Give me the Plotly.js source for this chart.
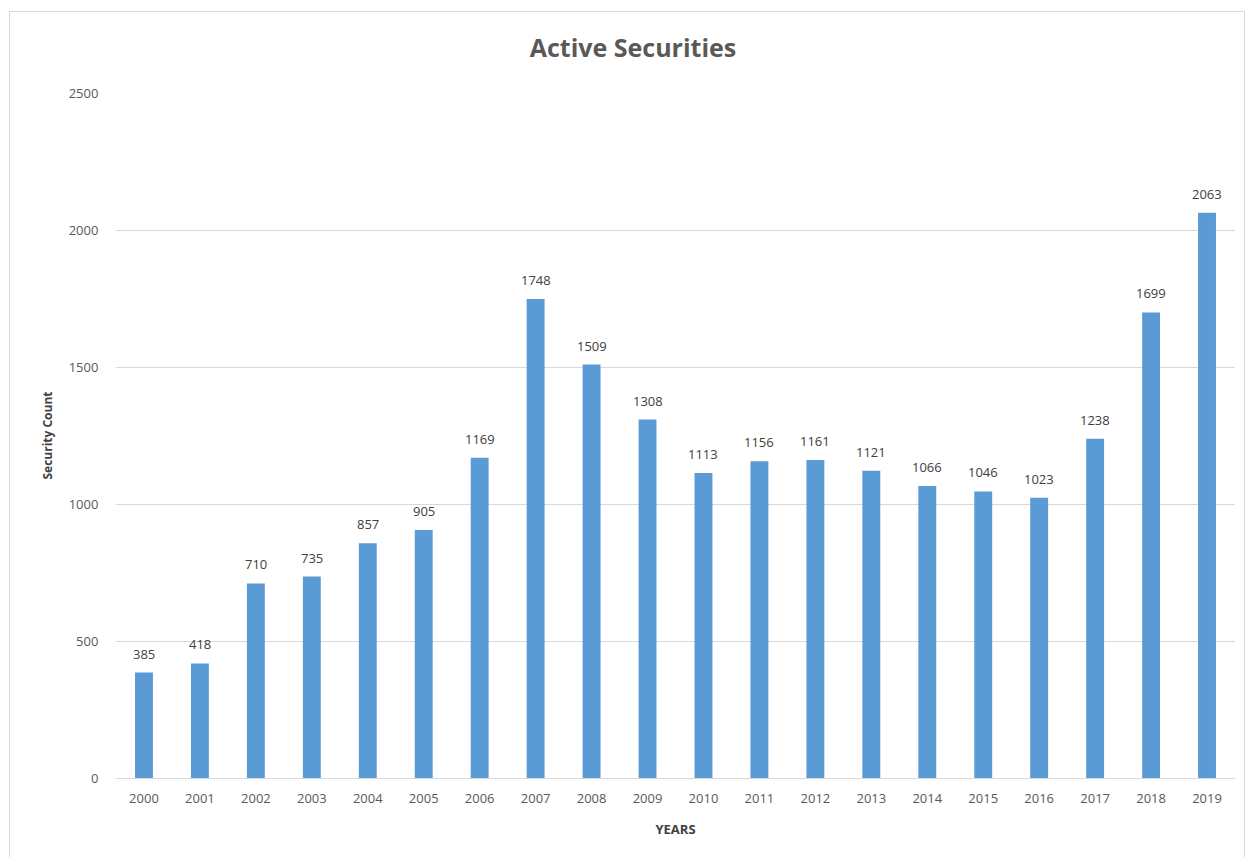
<!DOCTYPE html>
<html>
<head>
<meta charset="utf-8">
<script src="https://cdn.plot.ly/plotly-3.0.1.min.js"></script>
<style>
html,body{margin:0;padding:0;background:#fff;}
#frame{position:absolute;left:9px;top:11px;width:1236px;height:860px;border:1px solid #d9d9d9;box-sizing:border-box;}
#chart{position:absolute;left:0;top:0;width:1246px;height:857px;}
</style>
</head>
<body>
<div id="frame"></div>
<div id="chart"></div>
<script>
const years = ["2000","2001","2002","2003","2004","2005","2006","2007","2008","2009","2010","2011","2012","2013","2014","2015","2016","2017","2018","2019"];
const counts = [385,418,710,735,857,905,1169,1748,1509,1308,1113,1156,1161,1121,1066,1046,1023,1238,1699,2063];
const yTicks = [0,500,1000,1500,2000,2500];

const font = "'Open Sans', 'Liberation Sans', sans-serif";
const labels = years.map((yr, i) => ({
  x: i, y: counts[i], text: String(counts[i]), showarrow: false,
  xref: 'x', yref: 'y', yanchor: 'bottom', yshift: 8,
  font: {family: font, size: 13, color: '#404040'}
}));
Plotly.newPlot('chart', [{
  type: 'bar',
  x: years,
  y: counts,
  marker: {color: '#5b9bd5'},
  width: 0.32,
  hoverinfo: 'x+y'
}], {
  width: 1246, height: 857,
  paper_bgcolor: 'rgba(0,0,0,0)',
  plot_bgcolor: 'rgba(0,0,0,0)',
  margin: {l: 116, r: 11, t: 93, b: 79},
  showlegend: false,
  annotations: labels,
  title: {text: '<b>Active Securities</b>', x: 0.508, xanchor: 'center', y: 0.944, yanchor: 'middle',
          font: {family: font, size: 25, color: '#595959'}},
  xaxis: {
    type: 'category', range: [-0.5, years.length - 0.5],
    showgrid: false, showline: true, linecolor: '#d9d9d9', linewidth: 1,
    ticks: 'outside', ticklen: 8, tickcolor: 'rgba(0,0,0,0)',
    tickfont: {family: font, size: 13, color: '#595959'},
    title: {text: '<b>YEARS</b>', font: {family: font, size: 13, color: '#404040'}, standoff: 19}
  },
  yaxis: {
    range: [0, 2500], tickvals: yTicks, ticktext: yTicks.map(String),
    showgrid: true, gridcolor: '#d9d9d9', gridwidth: 1, zeroline: false,
    showline: false, ticks: 'outside', ticklen: 14, tickcolor: 'rgba(0,0,0,0)',
    tickfont: {family: font, size: 13, color: '#595959'},
    title: {text: '<b>Security Count</b>', font: {family: font, size: 12, color: '#404040'}, standoff: 13}
  },
  bargap: 0.68
}, {displayModeBar: false, staticPlot: true});
</script>
</body>
</html>
